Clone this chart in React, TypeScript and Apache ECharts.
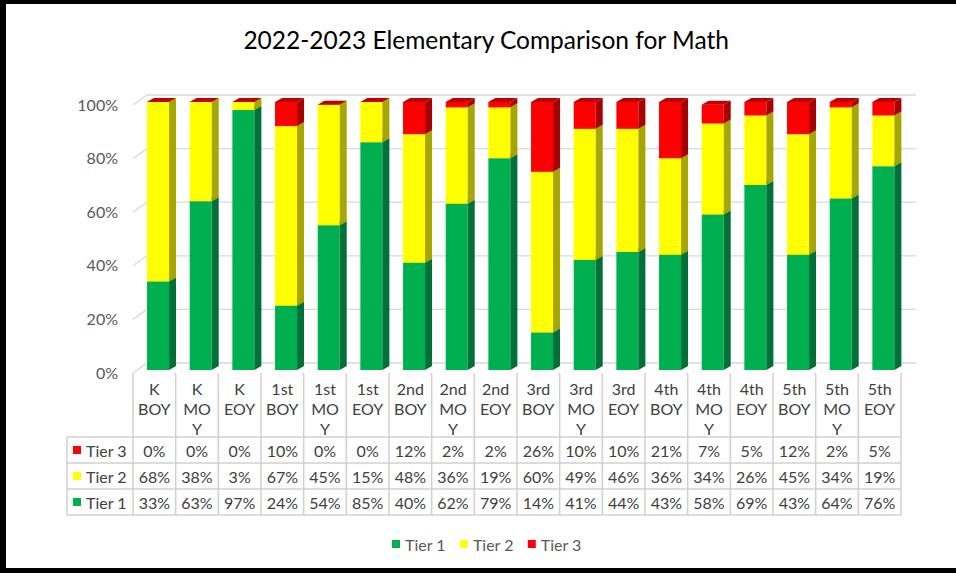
import React, { useEffect, useRef } from "react";
import * as echarts from "echarts";

const categories = [
  "K\nBOY", "K\nMO\nY", "K\nEOY",
  "1st\nBOY", "1st\nMO\nY", "1st\nEOY",
  "2nd\nBOY", "2nd\nMO\nY", "2nd\nEOY",
  "3rd\nBOY", "3rd\nMO\nY", "3rd\nEOY",
  "4th\nBOY", "4th\nMO\nY", "4th\nEOY",
  "5th\nBOY", "5th\nMO\nY", "5th\nEOY",
];
const tier1 = [33, 63, 97, 24, 54, 85, 40, 62, 79, 14, 41, 44, 43, 58, 69, 43, 64, 76];
const tier2 = [68, 38, 3, 67, 45, 15, 48, 36, 19, 60, 49, 46, 36, 34, 26, 45, 34, 19];
const tier3 = [0, 0, 0, 10, 0, 0, 12, 2, 2, 26, 10, 10, 21, 7, 5, 12, 2, 5];
const seriesNames = ["Tier 1", "Tier 2", "Tier 3"];
const yTicks = [0, 20, 40, 60, 80, 100];
const titleText = "2022-2023 Elementary Comparison for Math";

const FONT = "Lato, 'Noto Sans', sans-serif";
const TEXT_COLOR = "#404040";
const GRID_COLOR = "#D9D9D9";
const TABLE_COLOR = "#D0D0D0";

const palettes = [
  { front: "#00B050", side: "#00703A", top: "#00903F" },
  { front: "#FFFF00", side: "#A6A600", top: "#CCCC00" },
  { front: "#FF0000", side: "#A80000", top: "#C00000" },
];

// table row layout (Tier 3 on top, Tier 1 at the bottom)
const headerTop = 373;
const rowLines = [437, 463, 489, 515];
const rowCenters = [450, 476, 502];
const tableRows = [tier3, tier2, tier1];
const tableRowNames = [seriesNames[2], seriesNames[1], seriesNames[0]];
const tableRowColors = [palettes[2].front, palettes[1].front, palettes[0].front];

function textStyle(text: string, align: string, size = 16, fill = TEXT_COLOR) {
  return {
    text,
    fill,
    font: `${size}px ${FONT}`,
    align,
    textAlign: align,
    verticalAlign: "middle",
    textVerticalAlign: "middle",
  } as any;
}

function barRenderer(pal: { front: string; side: string; top: string }) {
  return (params: any, api: any) => {
    const idx = api.value(0);
    const base = Math.min(api.value(1), 100);
    const top = Math.min(api.value(2), 100);
    const cx = api.coord([idx, 0])[0];
    const bw = api.size([1, 0])[0];
    const yb = api.coord([idx, base])[1] - 2;
    const yt = api.coord([idx, top])[1] - 2;
    const left = cx - bw * 0.171;
    const right = cx + bw * 0.345;
    const dx = 7;
    const dy = 4;
    return {
      type: "group",
      children: [
        {
          type: "rect",
          shape: { x: left, y: yt, width: right - left, height: Math.max(0, yb - yt) },
          style: { fill: pal.front },
        },
        {
          type: "polygon",
          shape: { points: [[right, yt], [right + dx, yt - dy], [right + dx, yb - dy], [right, yb]] },
          style: { fill: pal.side },
        },
        {
          type: "polygon",
          shape: { points: [[left, yt], [right, yt], [right + dx, yt - dy], [left + dx, yt - dy]] },
          style: { fill: pal.top },
        },
      ],
    };
  };
}

export default function App() {
  const ref = useRef<HTMLDivElement>(null);

  useEffect(() => {
    if (!ref.current) return;
    const chart = echarts.init(ref.current, null, { renderer: "svg" });

    const tiers = [tier1, tier2, tier3];
    const bases = categories.map(() => 0);
    const barSeries = tiers.map((vals, s) => {
      const data = vals.map((v, k) => {
        const b = bases[k];
        bases[k] = b + v;
        return [k, b, b + v];
      });
      return {
        type: "custom",
        name: seriesNames[s],
        z: 3,
        itemStyle: { color: palettes[s].front },
        encode: { x: 0, y: 2 },
        data,
        renderItem: barRenderer(palettes[s]),
      };
    });

    const wallSeries = {
      type: "custom",
      name: "walls",
      z: 1,
      silent: true,
      encode: { x: 0, y: 1 },
      data: yTicks.map((v) => [0, v]),
      renderItem: (params: any, api: any) => {
        const y = api.coord([0, api.value(1)])[1];
        const cs = params.coordSys;
        const gx = cs.x;
        const gr = cs.x + cs.width;
        return {
          type: "polyline",
          shape: { points: [[gx, y + 1], [gx + 14, y - 9], [gr + 15, y - 9]] },
          style: { stroke: GRID_COLOR, lineWidth: 1.3, fill: "none" },
        };
      },
    };

    const tableSeries = {
      type: "custom",
      name: "table",
      z: 2,
      silent: true,
      encode: { x: 0, y: 1 },
      data: categories.map((_, k) => [k, 0]),
      renderItem: (params: any, api: any) => {
        const idx = api.value(0);
        const cx = api.coord([idx, 0])[0];
        const bw = api.size([1, 0])[0];
        const l = cx - bw / 2;
        const r = cx + bw / 2;
        const children: any[] = [];
        const lineStyle = { stroke: TABLE_COLOR, lineWidth: 1.5 };
        children.push({ type: "line", shape: { x1: r, y1: headerTop, x2: r, y2: rowLines[3] }, style: lineStyle });
        if (idx === 0) {
          children.push({ type: "line", shape: { x1: l, y1: headerTop, x2: l, y2: rowLines[3] }, style: lineStyle });
        }
        rowLines.forEach((y) => {
          children.push({ type: "line", shape: { x1: l, y1: y, x2: r, y2: y }, style: lineStyle });
        });
        tableRows.forEach((row, ri) => {
          children.push({
            type: "text",
            x: cx,
            y: rowCenters[ri],
            style: textStyle(`${row[idx]}%`, "center"),
          });
        });
        return { type: "group", children };
      },
    };

    const keyX = 67;
    const keyR = 133;
    const graphics: any[] = [];
    rowLines.forEach((y) => {
      graphics.push({ type: "line", shape: { x1: keyX, y1: y, x2: keyR, y2: y }, style: { stroke: TABLE_COLOR, lineWidth: 1.5 } });
    });
    graphics.push({ type: "line", shape: { x1: keyX, y1: rowLines[0], x2: keyX, y2: rowLines[3] }, style: { stroke: TABLE_COLOR, lineWidth: 1.5 } });
    tableRowNames.forEach((name, ri) => {
      graphics.push({ type: "rect", shape: { x: 73, y: rowCenters[ri] - 4, width: 8, height: 8 }, style: { fill: tableRowColors[ri] } });
      graphics.push({ type: "text", x: 86, y: rowCenters[ri], style: textStyle(name, "left") });
    });
    // outer frame
    graphics.push({ type: "rect", shape: { x: 0, y: 0, width: 956, height: 4 }, style: { fill: "#000" } });
    graphics.push({ type: "rect", shape: { x: 0, y: 0, width: 6, height: 573 }, style: { fill: "#000" } });
    graphics.push({ type: "rect", shape: { x: 0, y: 568, width: 956, height: 5 }, style: { fill: "#000" } });

    chart.setOption({
      animation: false,
      backgroundColor: "#ffffff",
      title: {
        text: titleText,
        left: "50.85%",
        textAlign: "center",
        top: 27,
        padding: 0,
        textStyle: { fontFamily: FONT, fontSize: 24.5, fontWeight: "normal", color: "#000000" },
      },
      legend: {
        data: seriesNames,
        left: 387,
        top: 531,
        icon: "rect",
        itemWidth: 8,
        itemHeight: 8,
        itemGap: 14,
        textStyle: { fontFamily: FONT, fontSize: 16, color: "#595959" },
      },
      grid: { left: 133, right: 55, top: 104, bottom: 201, containLabel: false },
      xAxis: {
        type: "category",
        data: categories,
        axisLine: { show: false },
        axisTick: { show: false },
        splitLine: { show: false },
        axisLabel: {
          interval: 0,
          margin: 6,
          lineHeight: 20,
          fontFamily: FONT,
          fontSize: 16,
          color: TEXT_COLOR,
        },
      },
      yAxis: {
        type: "value",
        min: 0,
        max: 100,
        interval: 20,
        axisLine: { show: false },
        axisTick: { show: false },
        splitLine: { show: false },
        axisLabel: {
          formatter: "{value}%",
          margin: 15,
          fontFamily: FONT,
          fontSize: 16,
          color: "#595959",
        },
      },
      graphic: graphics,
      series: [wallSeries, tableSeries, ...barSeries],
    } as any);

    return () => chart.dispose();
  }, []);

  return (
    <div
      ref={ref}
      style={{ position: "fixed", left: 0, top: 0, width: 956, height: 573, background: "#fff" }}
    />
  );
}
